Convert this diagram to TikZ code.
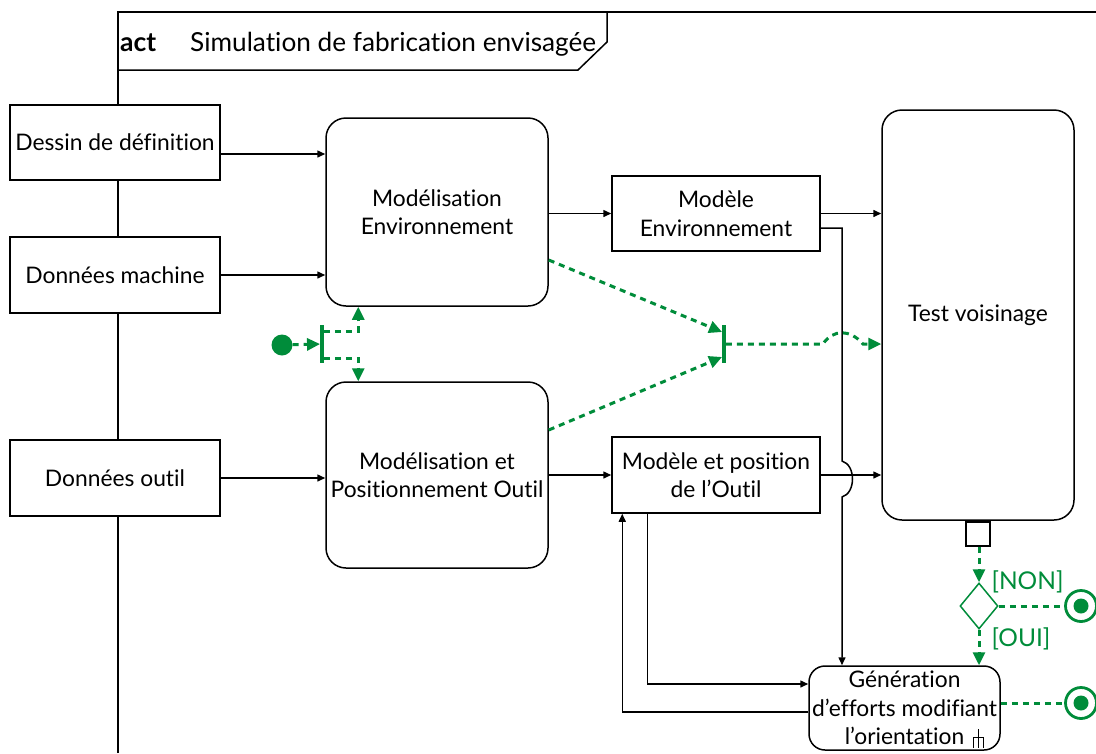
\documentclass[tikz,border=0pt]{standalone}
\usepackage{fontspec}
\setmainfont{Lato}[Ligatures=NoCommon]
\usepackage{xcolor}
\usetikzlibrary{
  positioning,
  arrows.meta,
  shapes.geometric,
  calc
}
\definecolor{umlgreen}{RGB}{0,140,58}

\begin{document}
\begin{tikzpicture}[
  x=1pt, y=-1pt,
  font=\fontsize{22.8}{28.5}\selectfont,
  databox/.style={
    rectangle,
    draw=black,
    fill=white,
    line width=1.5pt,
    minimum width=208pt,
    minimum height=75pt,
    align=center,
    inner sep=2pt
  },
  actbox/.style={
    rectangle,
    rounded corners=20pt,
    draw=black,
    fill=white,
    line width=1.5pt,
    minimum width=222pt,
    minimum height=187pt,
    align=center
  },
  barnode/.style={
    rectangle,
    fill=umlgreen,
    inner sep=0pt,
    minimum width=3.5pt,
    minimum height=38pt
  },
  initnode/.style={
    circle,
    fill=umlgreen,
    inner sep=0pt,
    minimum size=21pt
  },
  finalnode/.style={
    circle,
    draw=umlgreen,
    line width=2.8pt,
    fill=white,
    inner sep=0pt,
    minimum size=31pt
  },
  decision/.style={
    diamond,
    draw=umlgreen,
    line width=1.5pt,
    inner sep=0pt,
    minimum width=38pt,
    minimum height=46pt
  },
  pinbox/.style={
    rectangle,
    draw=black,
    fill=white,
    line width=2.5pt,
    inner sep=0pt,
    minimum size=24pt
  },
  guard/.style={
    text=umlgreen,
    inner sep=1pt,
    font=\fontsize{24.5}{28}\selectfont
  },
  flow/.style={
    -{Triangle[length=8pt,width=7pt]},
    line width=1.5pt
  },
  ctrlline/.style={
    umlgreen,
    line width=3pt,
    dash pattern=on 6pt off 5pt
  },
  ctrl/.style={
    ctrlline,
    -{Triangle[length=13pt,width=12pt]}
  }
]
\useasboundingbox (0,0) rectangle (1096,753);

% Frame
\draw[line width=1.5pt] (118,753) -- (118,12) -- (1096,12);
\draw[line width=1.5pt] (118,70) -- (578,70) -- (607,42) -- (607,12);
\node[anchor=base west, inner sep=0pt, font=\fontsize{26.5}{30}\selectfont\bfseries] (actkw) at (120,51) {act};
\node[anchor=base west, inner sep=0pt, font=\fontsize{26.2}{30}\selectfont] (title) at (190,51) {Simulation de fabrication envisagée};

% Input data
\node[databox, minimum width=210pt] (dessin) at (115,142.5) {Dessin de définition};
\node[databox, minimum width=210pt, minimum height=76pt] (machine) at (115,275) {Données machine};
\node[databox, minimum width=210pt, minimum height=76pt] (outil) at (115,478) {Données outil};

% Actions
\node[actbox, minimum height=188pt] (modenv) at (437,212) {Modélisation\\Environnement};
\node[actbox, minimum height=186pt] (modoutil) at (437,475) {Modélisation et\\Positionnement Outil};
\node[actbox, minimum width=192pt, minimum height=410pt] (test) at (978,315) {Test voisinage};
\node[actbox, rounded corners=16pt, minimum width=191pt, minimum height=84pt, inner sep=0pt] (gen) at (904.5,708) {Génération\\d’efforts modifiant\\l’orientation};

% Objects
\node[databox] (modeleenv) at (716,213.5) {Modèle\\Environnement};
\node[databox, minimum height=76pt] (modeleoutil) at (716,475) {Modèle et position\\de l’Outil};

% Call behaviour rake
\draw[line width=1.2pt] ($(gen.south east)+(-22,-3)$) -- ++(0,-19);
\draw[line width=1.2pt] ($(gen.south east)+(-27,-3)$) -- ++(0,-10) -- ++(10,0) -- ++(0,10);

% Object flows
\draw[flow] ($(dessin.east)+(0,11.5)$) -- ($(modenv.west)+(0,-58)$);
\draw[flow] (machine.east) -- (machine.east -| modenv.west);
\draw[flow] (outil.east) -- (outil.east -| modoutil.west);
\draw[flow] (modenv.east |- modeleenv.west) -- (modeleenv.west);
\draw[flow] (modoutil.east |- modeleoutil.west) -- (modeleoutil.west);
\draw[flow] (modeleenv.east) -- (modeleenv.east -| test.west);
\draw[flow] (modeleoutil.east) -- (modeleoutil.east -| test.west);

\coordinate (hopA) at (842,461);
\coordinate (hopB) at (842,497);
\draw[flow] ($(modeleenv.east)+(0,14.5)$) -| (hopA)
  .. controls +(14,4) and +(14,-4) .. (hopB) -- (hopB |- gen.north);
\draw[flow] ($(modeleoutil.south west)+(36,0)$) |- ($(gen.west)+(0,-24)$);
\draw[flow] ($(gen.west)+(0,4)$) -| ($(modeleoutil.south west)+(11,0)$);

% Control flows
\node[initnode] (init) at (282,345) {};
\node[barnode] (fork) at (322,344) {};
\node[barnode] (join) at (724,344) {};
\draw[ctrl] (init) -- (fork);
\draw[ctrl] ($(fork.east)+(0,-13)$) -| ($(modenv.south west)+(33,0)$);
\draw[ctrl] ($(fork.east)+(0,14)$) -| ($(modoutil.north west)+(33,0)$);
\draw[ctrl] ($(modenv.east)+(0,48)$) -- ($(join.west)+(0,-12)$);
\draw[ctrl] ($(modoutil.east)+(0,-45)$) -- ($(join.west)+(0,13)$);

\coordinate (hopC) at (823,344);
\coordinate (hopD) at (863,344);
\draw[ctrl] (join.east) -- (hopC)
  .. controls (833,329) and (850,329) .. (hopD) -- (hopD -| test.west);

% Decision
\node[pinbox] (outpin) at (978,534) {};
\node[decision] (dec) at (979,606) {};
\node[finalnode] (fin1) at (1081,606) {};
\node[finalnode] (fin2) at (1081,703) {};
\fill[umlgreen] (fin1.center) circle (7.5pt);
\fill[umlgreen] (fin2.center) circle (7.5pt);

\draw[ctrl] (outpin.south -| dec.north) -- node[guard, pos=1, anchor=west, xshift=10pt] {[NON]} (dec.north);
\draw[ctrl] (dec.south) -- node[guard, pos=0.25, anchor=west, xshift=10pt] {[OUI]} (dec.south |- gen.north);
\draw[ctrlline] (dec.east) -- (fin1.west);
\draw[ctrlline] ($(gen.east)+(0,-5)$) -- (fin2.west |- {$(gen.east)+(0,-5)$});

\end{tikzpicture}
\end{document}
